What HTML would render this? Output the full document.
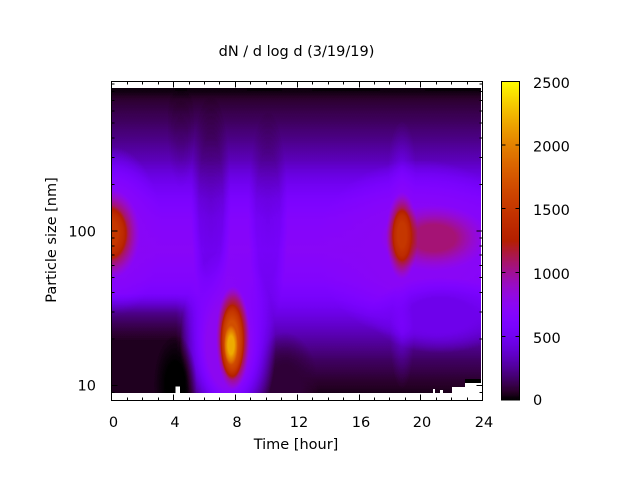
<!DOCTYPE html>
<html><head><meta charset="utf-8"><style>html,body{margin:0;padding:0;background:#fff}svg{display:block}</style></head>
<body>
<svg width="640" height="480" viewBox="0 0 640 480" xmlns="http://www.w3.org/2000/svg" font-family="'DejaVu Sans','Liberation Sans',sans-serif" font-size="14.5" fill="#000">
<defs>
  <filter id="pal" filterUnits="userSpaceOnUse" x="112" y="88" width="369" height="305" color-interpolation-filters="sRGB">
    <feComponentTransfer color-interpolation-filters="sRGB">
      <feFuncR type="table" tableValues="0 .1581 .2236 .2739 .3162 .3536 .3873 .4183 .4472 .4743 .5 .5244 .5477 .5701 .5916 .6124 .6325 .6519 .6708 .6892 .7071 .7246 .7416 .7583 .7746 .7906 .8062 .8216 .8367 .8515 .866 .8803 .8944 .9083 .922 .9354 .9487 .9618 .9747 .9874 1"/>
      <feFuncG type="table" tableValues="0 0 .0001 .0004 .001 .002 .0034 .0054 .008 .0114 .0156 .0208 .027 .0343 .0429 .0527 .064 .0768 .0911 .1072 .125 .1447 .1664 .1901 .216 .2441 .2746 .3075 .343 .3811 .4219 .4655 .512 .5615 .6141 .6699 .729 .7915 .8574 .9269 1"/>
      <feFuncB type="table" tableValues="0 .1564 .309 .454 .5878 .7071 .809 .891 .9511 .9877 1 .9877 .9511 .891 .809 .7071 .5878 .454 .309 .1564 0 0 0 0 0 0 0 0 0 0 0 0 0 0 0 0 0 0 0 0 0"/>
    </feComponentTransfer>
  </filter>
  <filter id="palcb" filterUnits="userSpaceOnUse" x="501" y="81" width="18" height="319" color-interpolation-filters="sRGB">
    <feComponentTransfer color-interpolation-filters="sRGB">
      <feFuncR type="table" tableValues="0 .1581 .2236 .2739 .3162 .3536 .3873 .4183 .4472 .4743 .5 .5244 .5477 .5701 .5916 .6124 .6325 .6519 .6708 .6892 .7071 .7246 .7416 .7583 .7746 .7906 .8062 .8216 .8367 .8515 .866 .8803 .8944 .9083 .922 .9354 .9487 .9618 .9747 .9874 1"/>
      <feFuncG type="table" tableValues="0 0 .0001 .0004 .001 .002 .0034 .0054 .008 .0114 .0156 .0208 .027 .0343 .0429 .0527 .064 .0768 .0911 .1072 .125 .1447 .1664 .1901 .216 .2441 .2746 .3075 .343 .3811 .4219 .4655 .512 .5615 .6141 .6699 .729 .7915 .8574 .9269 1"/>
      <feFuncB type="table" tableValues="0 .1564 .309 .454 .5878 .7071 .809 .891 .9511 .9877 1 .9877 .9511 .891 .809 .7071 .5878 .454 .309 .1564 0 0 0 0 0 0 0 0 0 0 0 0 0 0 0 0 0 0 0 0 0"/>
    </feComponentTransfer>
  </filter>

  <linearGradient id="base" gradientUnits="userSpaceOnUse" x1="0" y1="88" x2="0" y2="393">
    <stop offset="0" stop-color="rgb(2,2,2)"/>
    <stop offset=".013" stop-color="rgb(3,3,3)"/>
    <stop offset=".039" stop-color="rgb(8,8,8)"/>
    <stop offset=".105" stop-color="rgb(15,15,15)"/>
    <stop offset=".17" stop-color="rgb(23,23,23)"/>
    <stop offset=".236" stop-color="rgb(33,33,33)"/>
    <stop offset=".302" stop-color="rgb(48,48,48)"/>
    <stop offset=".367" stop-color="rgb(61,61,61)"/>
    <stop offset=".433" stop-color="rgb(69,69,69)"/>
    <stop offset=".531" stop-color="rgb(73,73,73)"/>
    <stop offset=".63" stop-color="rgb(67,67,67)"/>
    <stop offset=".695" stop-color="rgb(56,56,56)"/>
    <stop offset=".761" stop-color="rgb(41,41,41)"/>
    <stop offset=".826" stop-color="rgb(28,28,28)"/>
    <stop offset=".892" stop-color="rgb(16,16,16)"/>
    <stop offset=".957" stop-color="rgb(8,8,8)"/>
    <stop offset="1" stop-color="rgb(4,4,4)"/>
  </linearGradient>
  <linearGradient id="cbg" gradientUnits="userSpaceOnUse" x1="0" y1="81" x2="0" y2="400">
    <stop offset="0" stop-color="#fff"/>
    <stop offset="1" stop-color="#000"/>
  </linearGradient>
  <linearGradient id="llfade" gradientUnits="userSpaceOnUse" x1="0" y1="294" x2="0" y2="342">
    <stop offset="0" stop-color="rgb(5,5,5)" stop-opacity="0"/>
    <stop offset=".4" stop-color="rgb(5,5,5)" stop-opacity=".55"/>
    <stop offset="1" stop-color="rgb(5,5,5)" stop-opacity="1"/>
  </linearGradient>
  <linearGradient id="hfade" gradientUnits="userSpaceOnUse" x1="176" y1="0" x2="206" y2="0">
    <stop offset="0" stop-color="#fff"/>
    <stop offset="1" stop-color="#000"/>
  </linearGradient>
  <mask id="mll" maskUnits="userSpaceOnUse" x="0" y="0" width="640" height="480">
    <rect x="90" y="280" width="130" height="130" fill="url(#hfade)"/>
  </mask>

  <radialGradient id="S74"><stop offset="0" stop-color="rgb(74,74,74)" stop-opacity="1"/><stop offset=".45" stop-color="rgb(74,74,74)" stop-opacity="1"/><stop offset=".75" stop-color="rgb(74,74,74)" stop-opacity=".45"/><stop offset="1" stop-color="rgb(74,74,74)" stop-opacity="0"/></radialGradient>
  <radialGradient id="S77"><stop offset="0" stop-color="rgb(77,77,77)" stop-opacity="1"/><stop offset=".45" stop-color="rgb(77,77,77)" stop-opacity="1"/><stop offset=".75" stop-color="rgb(77,77,77)" stop-opacity=".45"/><stop offset="1" stop-color="rgb(77,77,77)" stop-opacity="0"/></radialGradient>
  <radialGradient id="S48"><stop offset="0" stop-color="rgb(48,48,48)" stop-opacity="1"/><stop offset=".45" stop-color="rgb(48,48,48)" stop-opacity="1"/><stop offset=".75" stop-color="rgb(48,48,48)" stop-opacity=".45"/><stop offset="1" stop-color="rgb(48,48,48)" stop-opacity="0"/></radialGradient>
  <radialGradient id="S9"><stop offset="0" stop-color="rgb(9,9,9)" stop-opacity="1"/><stop offset=".45" stop-color="rgb(9,9,9)" stop-opacity="1"/><stop offset=".75" stop-color="rgb(9,9,9)" stop-opacity=".45"/><stop offset="1" stop-color="rgb(9,9,9)" stop-opacity="0"/></radialGradient>
  <radialGradient id="S108"><stop offset="0" stop-color="rgb(108,108,108)" stop-opacity="1"/><stop offset=".4" stop-color="rgb(108,108,108)" stop-opacity="1"/><stop offset=".75" stop-color="rgb(108,108,108)" stop-opacity=".4"/><stop offset="1" stop-color="rgb(108,108,108)" stop-opacity="0"/></radialGradient>
  <radialGradient id="S128"><stop offset="0" stop-color="rgb(128,128,128)" stop-opacity="1"/><stop offset=".45" stop-color="rgb(128,128,128)" stop-opacity="1"/><stop offset=".75" stop-color="rgb(128,128,128)" stop-opacity=".45"/><stop offset="1" stop-color="rgb(128,128,128)" stop-opacity="0"/></radialGradient>
  <radialGradient id="S133"><stop offset="0" stop-color="rgb(133,133,133)" stop-opacity="1"/><stop offset=".45" stop-color="rgb(133,133,133)" stop-opacity="1"/><stop offset=".75" stop-color="rgb(133,133,133)" stop-opacity=".45"/><stop offset="1" stop-color="rgb(133,133,133)" stop-opacity="0"/></radialGradient>
  <radialGradient id="S153"><stop offset="0" stop-color="rgb(153,153,153)" stop-opacity="1"/><stop offset=".45" stop-color="rgb(153,153,153)" stop-opacity="1"/><stop offset=".75" stop-color="rgb(153,153,153)" stop-opacity=".45"/><stop offset="1" stop-color="rgb(153,153,153)" stop-opacity="0"/></radialGradient>
  <radialGradient id="Sblk"><stop offset="0" stop-color="#000" stop-opacity="1"/><stop offset=".45" stop-color="#000" stop-opacity="1"/><stop offset=".75" stop-color="#000" stop-opacity=".45"/><stop offset="1" stop-color="#000" stop-opacity="0"/></radialGradient>
  <radialGradient id="B133"><stop offset="0" stop-color="rgb(133,133,133)" stop-opacity="1"/><stop offset=".55" stop-color="rgb(133,133,133)" stop-opacity="1"/><stop offset=".8" stop-color="rgb(133,133,133)" stop-opacity=".5"/><stop offset="1" stop-color="rgb(133,133,133)" stop-opacity="0"/></radialGradient>
  <radialGradient id="B173"><stop offset="0" stop-color="rgb(173,173,173)" stop-opacity="1"/><stop offset=".55" stop-color="rgb(173,173,173)" stop-opacity="1"/><stop offset=".8" stop-color="rgb(173,173,173)" stop-opacity=".5"/><stop offset="1" stop-color="rgb(173,173,173)" stop-opacity="0"/></radialGradient>
  <radialGradient id="B224"><stop offset="0" stop-color="rgb(224,224,224)" stop-opacity="1"/><stop offset=".45" stop-color="rgb(224,224,224)" stop-opacity="1"/><stop offset=".8" stop-color="rgb(224,224,224)" stop-opacity=".45"/><stop offset="1" stop-color="rgb(224,224,224)" stop-opacity="0"/></radialGradient>
  <radialGradient id="bandA"><stop offset="0" stop-color="#000" stop-opacity=".36"/><stop offset=".6" stop-color="#000" stop-opacity=".3"/><stop offset="1" stop-color="#000" stop-opacity="0"/></radialGradient>
  <radialGradient id="bandB"><stop offset="0" stop-color="#000" stop-opacity=".28"/><stop offset=".6" stop-color="#000" stop-opacity=".23"/><stop offset="1" stop-color="#000" stop-opacity="0"/></radialGradient>
  <radialGradient id="streak"><stop offset="0" stop-color="#000" stop-opacity=".2"/><stop offset=".5" stop-color="#000" stop-opacity=".15"/><stop offset="1" stop-color="#000" stop-opacity="0"/></radialGradient>
  <radialGradient id="plume"><stop offset="0" stop-color="#fff" stop-opacity=".05"/><stop offset="1" stop-color="#fff" stop-opacity="0"/></radialGradient>
</defs>

<!-- heatmap (grey intensity field mapped through palette) -->
<g filter="url(#pal)">
  <rect x="100" y="80" width="400" height="330" fill="url(#base)"/>
  <ellipse cx="112" cy="232" rx="50" ry="85" fill="url(#S74)"/>
  <ellipse cx="420" cy="250" rx="105" ry="90" fill="url(#S74)"/>
  <ellipse cx="440" cy="315" rx="70" ry="38" fill="url(#S48)"/>
  <rect x="90" y="290" width="125" height="115" fill="url(#llfade)" mask="url(#mll)"/>
  <ellipse cx="285" cy="392" rx="35" ry="60" fill="url(#S9)"/>
  <ellipse cx="211" cy="205" rx="20" ry="120" fill="url(#bandA)"/>
  <ellipse cx="268" cy="215" rx="20" ry="110" fill="url(#bandB)"/>
  <ellipse cx="181" cy="110" rx="15" ry="80" fill="url(#streak)"/>
  <ellipse cx="228" cy="345" rx="48" ry="95" fill="url(#S77)"/>
  <ellipse cx="175" cy="384" rx="22" ry="50" fill="url(#Sblk)"/>
  <ellipse cx="233" cy="338" rx="17" ry="52" fill="url(#B133)"/>
  <ellipse cx="232" cy="342" rx="12" ry="38" fill="url(#B173)"/>
  <ellipse cx="231" cy="345" rx="7" ry="20" fill="url(#B224)"/>
  <ellipse cx="110" cy="234" rx="30" ry="45" fill="url(#S128)"/>
  <ellipse cx="110" cy="233" rx="18" ry="28" fill="url(#S153)"/>
  <ellipse cx="402" cy="170" rx="14" ry="50" fill="url(#plume)"/>
  <ellipse cx="402" cy="335" rx="12" ry="55" fill="url(#plume)"/>
  <ellipse cx="434" cy="238" rx="54" ry="33" fill="url(#S108)"/>
  <ellipse cx="402" cy="236" rx="16" ry="44" fill="url(#S133)"/>
  <ellipse cx="402" cy="235" rx="10" ry="27" fill="url(#S153)"/>
</g>

<!-- missing data / top edge spots -->
<g fill="#000" fill-opacity=".5">
  <rect x="175" y="88" width="12" height="3"/>
  <rect x="247" y="88" width="35" height="3"/>
  <rect x="312" y="88" width="68" height="3"/>
  <rect x="425" y="88" width="55" height="3"/>
</g>
<rect x="465" y="379" width="16" height="4" fill="#000"/>
<g fill="#fff">
  <rect x="175.5" y="386.5" width="4.5" height="6.5"/>
  <rect x="465" y="383" width="17" height="10"/>
  <rect x="452" y="387" width="13" height="6"/>
  <rect x="440" y="390" width="3" height="3"/>
  <rect x="433" y="389" width="2" height="4"/>
</g>

<!-- border -->
<rect x="111.5" y="81.5" width="371" height="319" fill="none" stroke="#000" stroke-width="1"/>

<!-- x ticks -->
<path stroke="#000" stroke-width="1" fill="none" d="
M111.5 400.5v-6 M127.5 400.5v-3 M142.5 400.5v-3 M158.5 400.5v-3 M173.5 400.5v-6 M189.5 400.5v-3 M204.5 400.5v-3 M219.5 400.5v-3 M235.5 400.5v-6 M250.5 400.5v-3 M266.5 400.5v-3 M281.5 400.5v-3 M297.5 400.5v-6 M312.5 400.5v-3 M328.5 400.5v-3 M343.5 400.5v-3 M359.5 400.5v-6 M374.5 400.5v-3 M389.5 400.5v-3 M405.5 400.5v-3 M420.5 400.5v-6 M436.5 400.5v-3 M451.5 400.5v-3 M467.5 400.5v-3 M482.5 400.5v-6
M111.5 81.5v6 M127.5 81.5v3 M142.5 81.5v3 M158.5 81.5v3 M173.5 81.5v6 M189.5 81.5v3 M204.5 81.5v3 M219.5 81.5v3 M235.5 81.5v6 M250.5 81.5v3 M266.5 81.5v3 M281.5 81.5v3 M297.5 81.5v6 M312.5 81.5v3 M328.5 81.5v3 M343.5 81.5v3 M359.5 81.5v6 M374.5 81.5v3 M389.5 81.5v3 M405.5 81.5v3 M420.5 81.5v6 M436.5 81.5v3 M451.5 81.5v3 M467.5 81.5v3 M482.5 81.5v6
"/>
<!-- y ticks -->
<path stroke="#000" stroke-width="1" fill="none" d="
M111.5 392.5h3 M111.5 385.5h6 M111.5 339h3 M111.5 312h3 M111.5 292.5h3 M111.5 277.5h3 M111.5 265.5h3 M111.5 255h3 M111.5 246h3 M111.5 238h3 M111.5 231h6 M111.5 184.5h3 M111.5 157.5h3 M111.5 138h3 M111.5 123h3 M111.5 111h3 M111.5 100.5h3 M111.5 91.5h3 M111.5 84h3
M482.5 392.5h-3 M482.5 385.5h-6 M482.5 339h-3 M482.5 312h-3 M482.5 292.5h-3 M482.5 277.5h-3 M482.5 265.5h-3 M482.5 255h-3 M482.5 246h-3 M482.5 238h-3 M482.5 231h-6 M482.5 184.5h-3 M482.5 157.5h-3 M482.5 138h-3 M482.5 123h-3 M482.5 111h-3 M482.5 100.5h-3 M482.5 91.5h-3 M482.5 84h-3
"/>

<!-- colorbar -->
<g filter="url(#palcb)">
  <rect x="501" y="81" width="18" height="319" fill="url(#cbg)"/>
</g>
<rect x="501.5" y="81.5" width="18" height="318.5" fill="none" stroke="#000" stroke-width="1"/>
<path stroke="#000" stroke-width="1" fill="none" d="
M501.5 145h4 M501.5 208.5h4 M501.5 272.5h4 M501.5 336.5h4
M519.5 145h-4 M519.5 208.5h-4 M519.5 272.5h-4 M519.5 336.5h-4"/>

<!-- text -->
<text x="296.5" y="56" text-anchor="middle">dN / d log d (3/19/19)</text>
<g text-anchor="middle">
  <text x="113.5" y="427">0</text>
  <text x="175" y="427">4</text>
  <text x="237" y="427">8</text>
  <text x="299" y="427">12</text>
  <text x="361" y="427">16</text>
  <text x="422" y="427">20</text>
  <text x="484" y="427">24</text>
  <text x="296" y="449">Time [hour]</text>
</g>
<g text-anchor="end">
  <text x="96" y="236.5">100</text>
  <text x="96" y="390.5">10</text>
</g>
<text transform="translate(56,240) rotate(-90)" text-anchor="middle">Particle size [nm]</text>
<g>
  <text x="533" y="88">2500</text>
  <text x="533" y="151.3">2000</text>
  <text x="533" y="214.8">1500</text>
  <text x="533" y="278.8">1000</text>
  <text x="533" y="342.8">500</text>
  <text x="533" y="405">0</text>
</g>
</svg>
</body></html>
